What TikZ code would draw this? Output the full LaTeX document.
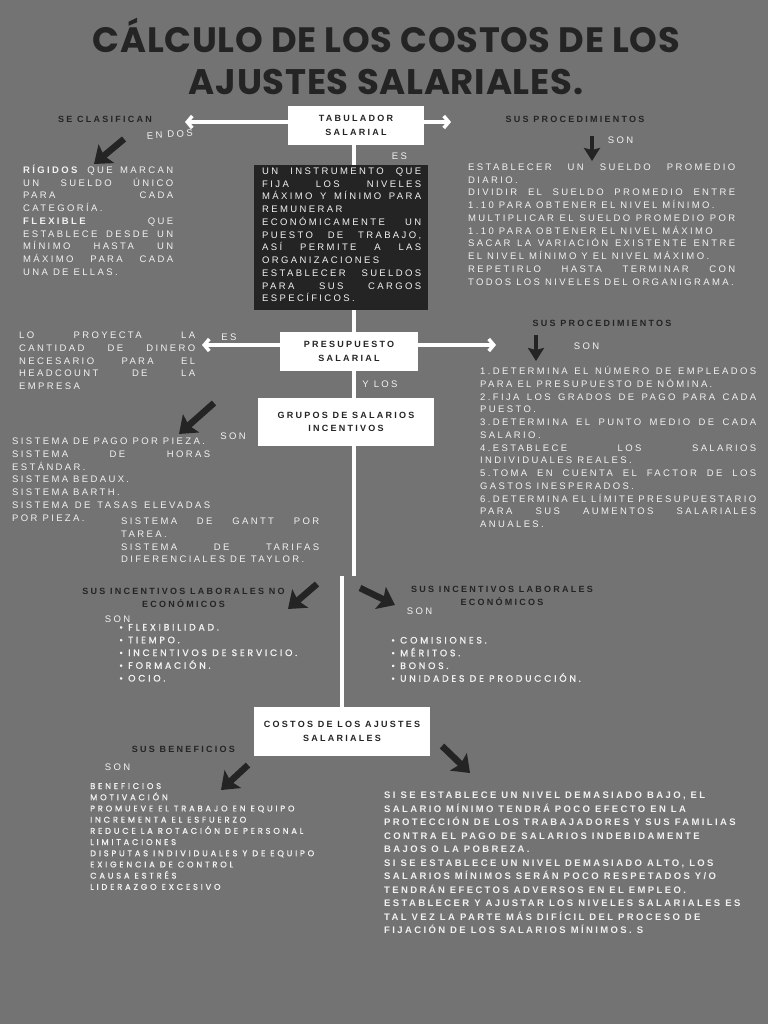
\documentclass[tikz,border=0pt]{standalone}
\usepackage{fontspec}
\usetikzlibrary{arrows.meta}
\definecolor{bgc}{RGB}{115,115,115}
\definecolor{ink}{RGB}{36,36,36}
\definecolor{paper}{RGB}{242,242,242}
\newfontfamily\bodyf[LetterSpace=25]{Liberation Sans}
\newfontfamily\headf[LetterSpace=25]{Liberation Sans}
\newfontfamily\popf[LetterSpace=30,FakeBold=1]{Poppins}
\newfontfamily\popsm[LetterSpace=34,FakeBold=1]{Poppins}
\newfontfamily\titlef[LetterSpace=2]{Poppins}
\newcommand\jl[1]{\makebox[\hsize][s]{\spaceskip=0pt\xspaceskip=0pt\relax #1}}
\newcommand\bul{\makebox[9pt][l]{\textbullet}}
\pgfdeclarelayer{bg}\pgfdeclarelayer{lines}\pgfsetlayers{bg,lines,main}
\begin{document}
\begin{tikzpicture}[x=1pt,y=-1pt,
  every node/.append style={execute at begin node={\spaceskip=0pt\xspaceskip=0pt\relax}},
  body/.style={font=\bodyf\fontsize{9.5}{12.75}\selectfont, text=paper, inner sep=0pt, anchor=base west, align=left},
  bbody/.style={font=\bodyf\bfseries\fontsize{9.5}{13.5}\selectfont, text=paper, inner sep=0pt, anchor=base west, align=left},
  lbl/.style={font=\bodyf\fontsize{9.5}{12}\selectfont, text=paper, inner sep=0pt, anchor=base},
  head/.style={font=\headf\bfseries\fontsize{9}{13}\selectfont, text=ink, inner sep=0pt, align=center},
  wbox/.style={fill=white, inner sep=0pt, align=center, font=\headf\bfseries\fontsize{9}{13.5}\selectfont, text=ink},
  dbox/.style={fill=ink, inner sep=0pt},
  blist/.style={font=\popf\fontsize{9.3}{12.75}\selectfont, text=paper, inner sep=0pt, anchor=base west, align=left},
  slist/.style={font=\popsm\fontsize{8.3}{11.2}\selectfont, text=paper, inner sep=0pt, anchor=base west, align=left},
  titlestyle/.style={font=\titlef\bfseries, text=ink, inner sep=0pt, anchor=base},
  darr/.style={draw=ink, line width=6.5pt, -{Stealth[length=16pt,width=24pt,inset=3pt]}},
  dard/.style={draw=ink, line width=4.5pt, -{Stealth[length=13pt,width=16pt,inset=2pt]}},
  warr/.style={draw=white, line width=3.5pt, -{Straight Barb[length=5pt,width=12pt]}},
  vline/.style={draw=white, line width=3.5pt}]
\useasboundingbox (0,0) rectangle (768,1024);
\begin{pgfonlayer}{bg}\fill[bgc] (0,0) rectangle (768,1024);\end{pgfonlayer}

% title
\node[titlestyle] (t1) at (386.5,53) {\resizebox{587pt}{!}{CÁLCULO DE LOS COSTOS DE LOS}};
\node[titlestyle] (t2) at (386,95) {\resizebox{394pt}{!}{AJUSTES SALARIALES.}};

% main boxes
\node[wbox, minimum width=136pt, minimum height=39pt] (tab) at (356,125.5) {TABULADOR\\SALARIAL};
\node[dbox, anchor=north west, minimum width=174pt, minimum height=145pt] (dk) at (254,165) {};
\node[body, text width=159pt] (dtx) at (262,174.5) {\jl{UN INSTRUMENTO QUE}\\\jl{FIJA LOS NIVELES}\\\jl{MÁXIMO Y MÍNIMO PARA}\\REMUNERAR\\\jl{ECONÓMICAMENTE UN}\\\jl{PUESTO DE TRABAJO,}\\\jl{ASÍ PERMITE A LAS}\\ORGANIZACIONES\\\jl{ESTABLECER SUELDOS}\\\jl{PARA SUS CARGOS}\\ESPECÍFICOS.};
\node[wbox, minimum width=138pt, minimum height=39pt] (pres) at (349,351.5) {PRESUPUESTO\\SALARIAL};
\node[wbox, minimum width=176pt, minimum height=48pt] (grp) at (346,422) {GRUPOS DE SALARIOS\\INCENTIVOS};
\node[wbox, minimum width=176pt, minimum height=49pt] (cost) at (342,731.5) {COSTOS DE LOS AJUSTES\\SALARIALES};

% vertical connectors
\coordinate (j1) at (354,576);
\coordinate (j2) at (342,576);
\begin{pgfonlayer}{lines}
\draw[vline] (tab.south -| j1) -- (j1);
\draw[vline] (j2) -- (j2 |- cost.north);
\end{pgfonlayer}

% white arrows
\coordinate (a1) at (185,122);
\coordinate (a2) at (451,122);
\coordinate (a3) at (202,345);
\coordinate (a4) at (496,345);
\draw[warr] (tab.west |- a1) -- (a1);
\draw[warr] (tab.east |- a2) -- (a2);
\draw[warr] (pres.west |- a3) -- (a3);
\draw[warr] (pres.east |- a4) -- (a4);

% headings
\node[head, anchor=base] (h1) at (105,122.5) {SE CLASIFICAN};
\node[head, anchor=base] (h2) at (575,122.5) {SUS PROCEDIMIENTOS};
\node[head, anchor=base] (h3) at (602,326.5) {SUS PROCEDIMIENTOS};
\node[head] (h4) at (183.5,597.5) {SUS INCENTIVOS LABORALES NO\\ECONÓMICOS};
\node[head] (h5) at (502,595.5) {SUS INCENTIVOS LABORALES\\ECONÓMICOS};
\node[head, anchor=base] (h6) at (183.5,752.5) {SUS BENEFICIOS};

% small labels
\node[lbl, rotate=4] (l1) at (170,137.5) {EN DOS};
\node[lbl] (l2) at (399.5,159.5) {ES};
\node[lbl] (l3) at (620.5,143.5) {SON};
\node[lbl] (l4) at (229,340.5) {ES};
\node[lbl] (l5) at (586.5,349.5) {SON};
\node[lbl] (l6) at (380,387.5) {Y LOS};
\node[lbl] (l7) at (233,439.5) {SON};
\node[lbl] (l8) at (117.5,622.5) {SON};
\node[lbl] (l9) at (419.5,614.5) {SON};
\node[lbl] (l10) at (117.5,770.5) {SON};

% dark arrows
\coordinate (d1s) at (124,139); \coordinate (d1e) at (94,164);
\coordinate (d2s) at (592,136); \coordinate (d2e) at (592,161);
\coordinate (d3s) at (536,335); \coordinate (d3e) at (536,361);
\coordinate (d4s) at (214,403); \coordinate (d4e) at (179,434);
\coordinate (d5s) at (317,584); \coordinate (d5e) at (288,609);
\coordinate (d6s) at (360,588); \coordinate (d6e) at (395,605);
\coordinate (d7s) at (248,765); \coordinate (d7e) at (221,790);
\coordinate (d8s) at (442,746); \coordinate (d8e) at (470,773);
\draw[darr] (d1s) -- (d1e);
\draw[dard] (d2s) -- (d2e);
\draw[dard] (d3s) -- (d3e);
\draw[darr] (d4s) -- (d4e);
\draw[darr] (d5s) -- (d5e);
\draw[darr] (d6s) -- (d6e);
\draw[darr] (d7s) -- (d7e);
\draw[darr] (d8s) -- (d8e);

% text blocks
\node[body, text width=150pt] (b1) at (23,173.5) {\jl{\textbf{RÍGIDOS} QUE MARCAN}\\\jl{UN SUELDO ÚNICO}\\\jl{PARA CADA}\\CATEGORÍA.\\\jl{\textbf{FLEXIBLE} QUE}\\\jl{ESTABLECE DESDE UN}\\\jl{MÍNIMO HASTA UN}\\\jl{MÁXIMO PARA CADA}\\UNA DE ELLAS.};

\node[body, text width=267pt] (b2) at (468,170.5) {\jl{ESTABLECER UN SUELDO PROMEDIO}\\DIARIO.\\\jl{DIVIDIR EL SUELDO PROMEDIO ENTRE}\\1.10 PARA OBTENER EL NIVEL MÍNIMO.\\\jl{MULTIPLICAR EL SUELDO PROMEDIO POR}\\1.10 PARA OBTENER EL NIVEL MÁXIMO\\\jl{SACAR LA VARIACIÓN EXISTENTE ENTRE}\\EL NIVEL MÍNIMO Y EL NIVEL MÁXIMO.\\\jl{REPETIRLO HASTA TERMINAR CON}\\TODOS LOS NIVELES DEL ORGANIGRAMA.};

\node[body, text width=176pt] (b3) at (19,338.5) {\jl{LO PROYECTA LA}\\\jl{CANTIDAD DE DINERO}\\\jl{NECESARIO PARA EL}\\\jl{HEADCOUNT DE LA}\\EMPRESA};

\node[body, text width=276pt] (b4) at (480,374.5) {\jl{1.DETERMINA EL NÚMERO DE EMPLEADOS}\\PARA EL PRESUPUESTO DE NÓMINA.\\\jl{2.FIJA LOS GRADOS DE PAGO PARA CADA}\\PUESTO.\\\jl{3.DETERMINA EL PUNTO MEDIO DE CADA}\\SALARIO.\\\jl{4.ESTABLECE LOS SALARIOS}\\INDIVIDUALES REALES.\\\jl{5.TOMA EN CUENTA EL FACTOR DE LOS}\\GASTOS INESPERADOS.\\\jl{6.DETERMINA EL LÍMITE PRESUPUESTARIO}\\\jl{PARA SUS AUMENTOS SALARIALES}\\ANUALES.};

\node[body, text width=198pt] (b5) at (12,444.5) {SISTEMA DE PAGO POR PIEZA.\\\jl{SISTEMA DE HORAS}\\ESTÁNDAR.\\SISTEMA BEDAUX.\\SISTEMA BARTH.\\\jl{SISTEMA DE TASAS ELEVADAS}\\POR PIEZA.};

\node[body, text width=198pt] (b6) at (121,524.5) {\jl{SISTEMA DE GANTT POR}\\TAREA.\\\jl{SISTEMA DE TARIFAS}\\DIFERENCIALES DE TAYLOR.};

\node[blist, text width=210pt] (b7) at (119,630.5) {\bul FLEXIBILIDAD.\\\bul TIEMPO.\\\bul INCENTIVOS DE SERVICIO.\\\bul FORMACIÓN.\\\bul OCIO.};

\node[blist, text width=230pt] (b8) at (391,643.5) {\bul COMISIONES.\\\bul MÉRITOS.\\\bul BONOS.\\\bul UNIDADES DE PRODUCCIÓN.};

\node[slist, text width=270pt] (b9) at (90,789) {BENEFICIOS\\MOTIVACIÓN\\PROMUEVE EL TRABAJO EN EQUIPO\\INCREMENTA EL ESFUERZO\\REDUCE LA ROTACIÓN DE PERSONAL\\LIMITACIONES\\DISPUTAS INDIVIDUALES Y DE EQUIPO\\EXIGENCIA DE CONTROL\\CAUSA ESTRÉS\\LIDERAZGO EXCESIVO};

\node[bbody, text width=380pt] (b10) at (384,798.5) {SI SE ESTABLECE UN NIVEL DEMASIADO BAJO, EL\\SALARIO MÍNIMO TENDRÁ POCO EFECTO EN LA\\PROTECCIÓN DE LOS TRABAJADORES Y SUS FAMILIAS\\CONTRA EL PAGO DE SALARIOS INDEBIDAMENTE\\BAJOS O LA POBREZA.\\SI SE ESTABLECE UN NIVEL DEMASIADO ALTO, LOS\\SALARIOS MÍNIMOS SERÁN POCO RESPETADOS Y/O\\TENDRÁN EFECTOS ADVERSOS EN EL EMPLEO.\\ESTABLECER Y AJUSTAR LOS NIVELES SALARIALES ES\\TAL VEZ LA PARTE MÁS DIFÍCIL DEL PROCESO DE\\FIJACIÓN DE LOS SALARIOS MÍNIMOS. S};
\end{tikzpicture}
\end{document}
